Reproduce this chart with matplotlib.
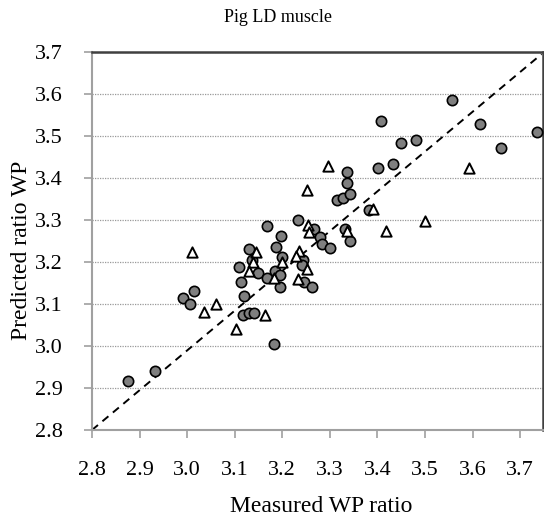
import numpy as np
import matplotlib.pyplot as plt

plt.rcParams['font.family'] = ['Liberation Serif', 'DejaVu Serif']

# circles (grey)
circ_x = [2.876, 2.933, 2.992, 3.006, 3.015, 3.108, 3.113, 3.119, 3.117, 3.129,
          3.141, 3.182, 3.129, 3.136, 3.149, 3.168, 3.168, 3.198, 3.187, 3.199,
          3.184, 3.196, 3.196, 3.234, 3.243, 3.246, 3.263, 3.267, 3.280, 3.284,
          3.300, 3.331, 3.342, 3.241, 3.314, 3.328, 3.343, 3.335, 3.335, 3.382,
          3.402, 3.433, 3.450, 3.480, 3.408, 3.556, 3.615, 3.660, 3.735]
circ_y = [2.917, 2.940, 3.114, 3.099, 3.131, 3.189, 3.152, 3.119, 3.074, 3.078,
          3.078, 3.005, 3.230, 3.205, 3.173, 3.161, 3.286, 3.262, 3.236, 3.213,
          3.179, 3.169, 3.140, 3.300, 3.205, 3.153, 3.140, 3.278, 3.259, 3.244,
          3.233, 3.278, 3.249, 3.193, 3.348, 3.352, 3.363, 3.389, 3.415, 3.325,
          3.424, 3.433, 3.484, 3.490, 3.536, 3.586, 3.529, 3.471, 3.510]

# triangles (open)
tri_x = [3.011, 3.036, 3.061, 3.103, 3.163, 3.145, 3.138, 3.131, 3.199, 3.182,
         3.236, 3.229, 3.252, 3.232, 3.255, 3.257, 3.252, 3.297, 3.335, 3.391,
         3.419, 3.499, 3.592]
tri_y = [3.223, 3.082, 3.100, 3.040, 3.073, 3.225, 3.199, 3.179, 3.201, 3.161,
         3.226, 3.214, 3.184, 3.160, 3.289, 3.271, 3.372, 3.428, 3.274, 3.326,
         3.274, 3.298, 3.425]

line_x = [2.8, 3.745]
line_y = [2.8, 3.695]

ticks_x = [2.8, 2.9, 3.0, 3.1, 3.2, 3.3, 3.4, 3.5, 3.6, 3.7]
ticks_y = [2.8, 2.9, 3.0, 3.1, 3.2, 3.3, 3.4, 3.5, 3.6, 3.7]

fig = plt.figure(figsize=(5.44, 5.21), dpi=100)
ax = fig.add_axes([92/544, 1 - 430/521, 451/544, 378/521])

ax.plot(line_x, line_y, color='black', linestyle=(0, (4, 3)), linewidth=1.4, zorder=2)
ax.scatter(circ_x, circ_y, s=55, c='#7f7f7f', edgecolors='black', linewidths=1.2, zorder=3)
ax.scatter(tri_x, tri_y, s=55, marker='^', c='white', edgecolors='black', linewidths=1.4, zorder=4)

ax.set_xlim(2.8, 3.748)
ax.set_ylim(2.8, 3.7)
ax.set_xticks(ticks_x)
ax.set_yticks(ticks_y)
ax.set_xticklabels([f'{v:.1f}' for v in ticks_x])
ax.set_yticklabels([f'{v:.1f}' for v in ticks_y])
ax.grid(axis='y', color='#999999', linestyle=(0, (1, 1)), linewidth=0.9)
ax.set_axisbelow(True)

for s in ['left', 'bottom']:
    ax.spines[s].set_color('#a0a0a0')
    ax.spines[s].set_linewidth(1.5)
for s in ['top', 'right']:
    ax.spines[s].set_color('#404040')
    ax.spines[s].set_linewidth(1.8)

ax.tick_params(axis='both', direction='out', length=6, width=1.2, color='#a0a0a0', labelsize=16)
ax.tick_params(axis='y', pad=15)
ax.tick_params(axis='x', pad=16)

fig.text(278/544, 1 - 18/521, 'Pig LD muscle', ha='center', va='center', fontsize=13)
fig.text(321/544, 1 - 507/521, 'Measured WP ratio', ha='center', va='center', fontsize=17)
fig.text(22/544, 1 - 250/521, 'Predicted ratio WP', ha='center', va='center', fontsize=17, rotation=90)

fig.savefig('out.png', dpi=100)
